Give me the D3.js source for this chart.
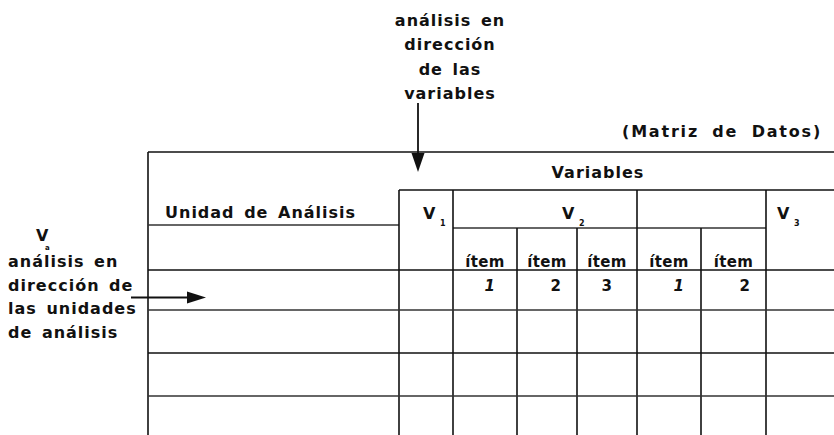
<!DOCTYPE html>
<html>
<head>
<meta charset="utf-8">
<script src="https://cdn.jsdelivr.net/npm/d3@7"></script>
<style>
  html, body { margin: 0; padding: 0; background: #fff; }
  svg text { font-family: "DejaVu Sans", sans-serif; font-weight: bold; fill: #111; }
</style>
</head>
<body>
<svg id="chart" width="834" height="435"></svg>
<script>
// ---- data (labels) ----
const topNote = ["análisis en", "dirección", "de las", "variables"];
const sideNote = ["análisis en", "dirección de", "las unidades", "de análisis"];
const matrixTitle = "(Matriz de Datos)";
const headerTitle = "Variables";
const unitLabel = "Unidad de Análisis";
const columns = ["unit", "v1", "v2i1", "v2i2", "v2i3", "v4i1", "v4i2", "v3"];
const groups = [
  { name: "V", sub: "1", from: "v1", to: "v1" },
  { name: "V", sub: "2", from: "v2i2", to: "v2i3" },
  { name: "", sub: "", from: "v4i1", to: "v4i2" },
  { name: "V", sub: "3", from: "v3", to: "v3" }
];
const itemCols = ["v2i1", "v2i2", "v2i3", "v4i1", "v4i2"];
const itemLabels = ["ítem", "ítem", "ítem", "ítem", "ítem"];
const itemNumbers = ["1", "2", "3", "1", "2"];
const dataRows = ["r1", "r2", "r3", "r4"];

// ---- layout scales ----
const colLeft = d3.scaleOrdinal().domain(columns)
  .range([148, 399, 453, 517, 577, 637, 701, 766]);
const colRight = d3.scaleOrdinal().domain(columns)
  .range([399, 453, 517, 577, 637, 701, 766, 834]);
const rowTop = d3.scaleOrdinal().domain(dataRows).range([270, 310, 353, 396]);
const yTop = 152, yHead = 190, ySub = 228, yUnder = 225, yBottom = 435;

const svg = d3.select("#chart");
svg.append("rect").attr("width", 834).attr("height", 435).attr("fill", "#fff");

const g = svg.append("g").attr("stroke", "#111").attr("fill", "none");
function line(x1, y1, x2, y2, w = 1.6, col = "#111") {
  g.append("line").attr("x1", x1).attr("y1", y1).attr("x2", x2).attr("y2", y2)
    .attr("stroke-width", w).attr("stroke", col);
}

// outer frame
line(colLeft("unit"), yTop, 834, yTop);
line(colLeft("unit"), yTop, colLeft("unit"), yBottom);
// header line under "Variables"
line(colLeft("v1"), yHead, 834, yHead);
// underline under "Unidad de Análisis"
line(colLeft("unit"), yUnder, colRight("unit"), yUnder, 1.3, "#333");
// sub-lines under grouped variables
line(colLeft("v2i1"), ySub, colRight("v4i2"), ySub, 1.3, "#333");
// verticals
[["v1", yHead], ["v2i1", yHead], ["v2i2", ySub], ["v2i3", ySub], ["v4i1", yHead], ["v4i2", ySub], ["v3", yHead]]
  .forEach(([c, y0]) => line(colLeft(c), y0, colLeft(c), yBottom, 1.6));
// data row lines
dataRows.forEach((r, i) => line(colLeft("unit"), rowTop(r), 834, rowTop(r), i % 2 === 0 ? 1.6 : 1.3, i % 2 === 0 ? "#111" : "#333"));

// texts
const t = svg.append("g");
function text(str, x, y, size, anchor = "start", extra = {}) {
  const el = t.append("text").attr("x", x).attr("y", y).attr("font-size", size)
    .attr("text-anchor", anchor).attr("letter-spacing", extra.ls ?? 1)
    .attr("word-spacing", extra.ws ?? 3).text(str);
  if (extra.italic) el.attr("font-style", "italic");
  return el;
}

topNote.forEach((s, i) => text(s, 450, 26 + i * 24.3, 16, "middle"));
sideNote.forEach((s, i) => text(s, 8, 267 + i * 23.5, 16, "start"));
text("V", 36, 241, 16, "start", { ls: 0 });
text("a", 45, 250, 7, "start", { ls: 0 });

text(matrixTitle, 822, 137, 16, "end", { ls: 1.8, ws: 6 });
text(headerTitle, 598, 178, 16, "middle");
text(unitLabel, 165, 218, 16, "start");

groups.forEach(gr => {
  if (!gr.name) return;
  const xs = colLeft(gr.from) + (gr.from === "v1" ? 24 : gr.from === "v3" ? 11 : 45);
  text(gr.name, xs, 219, 16, "start", { ls: 0 });
  text(gr.sub, xs + 17, 226, 8, "start", { ls: 0 });
});

const numOffset = [22, 16, 25, 17, 16];
itemCols.forEach((c, i) => {
  text(itemLabels[i], (colLeft(c) + colRight(c)) / 2, 267, 15, "middle", { ls: 0.3 });
  text(itemNumbers[i], colRight(c) - numOffset[i], 291, 15, "end", { ls: 0, italic: itemNumbers[i] === "1" });
});

// arrows
const a = svg.append("g").attr("fill", "#111").attr("stroke", "#111");
a.append("line").attr("x1", 418).attr("y1", 103).attr("x2", 418).attr("y2", 158).attr("stroke-width", 1.8);
a.append("path").attr("d", "M411.5,153 L424.5,153 L418,172 Z").attr("stroke", "none");
a.append("line").attr("x1", 131).attr("y1", 297.5).attr("x2", 192).attr("y2", 297.5).attr("stroke-width", 1.8);
a.append("path").attr("d", "M187,291.5 L206,297.5 L187,303.5 Z").attr("stroke", "none");
</script>
</body>
</html>
